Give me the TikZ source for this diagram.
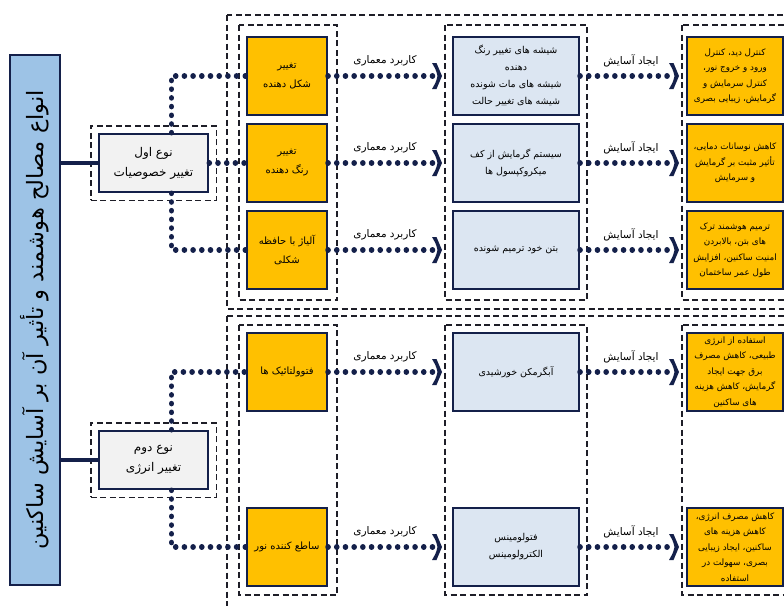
\documentclass[tikz,border=0pt]{standalone}
\usepackage{fontspec}
\usetikzlibrary{fit}
\newfontfamily\arabicfont[Script=Arabic]{DejaVu Sans}
\TeXXeTstate=1
\newcommand\fatx[1]{\beginR#1\endR}
\definecolor{navy}{HTML}{14204A}
\definecolor{goldbox}{HTML}{FFC000}
\definecolor{paleblue}{HTML}{DCE6F2}
\definecolor{titleblue}{HTML}{9DC3E6}
\definecolor{graybox}{HTML}{F2F2F2}
\definecolor{dashgray}{HTML}{1E1E28}
\tikzset{
  dashbox/.style={draw=dashgray, line width=1.5pt, dash pattern=on 6pt off 3.5pt},
  dotline/.style={draw=navy, line width=5.5pt, line cap=round, dash pattern=on 0.1pt off 8.6pt},
  conn/.style={draw=navy, line width=4pt},
  titlebox/.style={draw=navy, line width=2pt, fill=titleblue, inner sep=0pt,
     font=\arabicfont\fontsize{22.5}{26}\selectfont},
  typebox/.style={draw=navy, line width=2.5pt, fill=graybox, minimum width=109pt,
     minimum height=58pt, inner sep=1pt, align=center,
     font=\arabicfont\fontsize{12}{20}\selectfont},
  kindbox/.style={draw=navy, line width=2pt, fill=goldbox, minimum width=80pt,
     minimum height=78pt, inner sep=1pt, align=center,
     font=\arabicfont\fontsize{10}{19}\selectfont},
  usebox/.style={draw=navy, line width=2pt, fill=paleblue, minimum width=126pt,
     minimum height=78pt, inner sep=1pt, align=center,
     font=\arabicfont\fontsize{9.5}{17}\selectfont},
  effbox/.style={draw=navy, line width=2pt, fill=goldbox, minimum width=96pt,
     minimum height=78pt, inner sep=1pt, align=center,
     font=\arabicfont\fontsize{8.8}{15.5}\selectfont},
  lbl/.style={inner sep=0pt, font=\arabicfont\fontsize{10.5}{12}\selectfont},
  chev/.pic={\fill[navy] (-8,-13) -- (-3.5,-13) .. controls (0,-6) .. (2,0)
     .. controls (0,6) .. (-3.5,13) -- (-8,13) .. controls (-4,6) .. (-2.5,0)
     .. controls (-4,-6) .. (-8,-13) -- cycle;}
}
\begin{document}
\begin{tikzpicture}[x=1pt,y=-1pt]
\useasboundingbox (0,0) rectangle (784,605);
\clip (0,0) rectangle (784,605);
\fill[white] (0,0) rectangle (784,605);

% group frames
\draw[dashbox] (227,15) rectangle (800,309);
\draw[dashbox] (227,316) rectangle (800,620);
% column frames
\draw[dashbox] (239,25) rectangle (337,300);
\draw[dashbox] (445,25) rectangle (587,300);
\draw[dashbox] (682,25) rectangle (800,300);
\draw[dashbox] (239,325) rectangle (337,595);
\draw[dashbox] (445,325) rectangle (587,595);
\draw[dashbox] (682,325) rectangle (800,595);

% title
\node[titlebox, rotate=90, minimum width=530pt, minimum height=50pt] (title) at (35,320)
  {\fatx{انواع مصالح هوشمند و تأثیر آن بر آسایش ساکنین}};

% type boxes
\node[typebox] (typ1) at (153.5,163) {\fatx{نوع اول}\\\fatx{تغییر خصوصیات}};
\node[typebox] (typ2) at (153.5,460) {\fatx{نوع دوم}\\\fatx{تغییر انرژی}};
\node[dashbox, fit=(typ1), inner sep=7pt] (typ1f) {};
\node[dashbox, fit=(typ2), inner sep=7pt] (typ2f) {};

% column 1
\node[kindbox] (a1) at (287,76) {\fatx{تغییر}\\\fatx{شکل دهنده}};
\node[kindbox] (a2) at (287,163) {\fatx{تغییر}\\\fatx{رنگ دهنده}};
\node[kindbox] (a3) at (287,250) {\fatx{آلیاژ با حافظه}\\\fatx{شکلی}};
\node[kindbox] (a4) at (287,372) {\fatx{فتوولتائیک ها}};
\node[kindbox] (a5) at (287,547) {\fatx{ساطع کننده نور}};

% column 2
\node[usebox] (b1) at (516,76) {\fatx{شیشه های تغییر رنگ}\\\fatx{دهنده}\\\fatx{شیشه های مات شونده}\\\fatx{شیشه های تغییر حالت}};
\node[usebox] (b2) at (516,163) {\fatx{سیستم گرمایش از کف}\\\fatx{میکروکپسول ها}};
\node[usebox] (b3) at (516,250) {\fatx{بتن خود ترمیم شونده}};
\node[usebox] (b4) at (516,372) {\fatx{آبگرمکن خورشیدی}};
\node[usebox] (b5) at (516,547) {\fatx{فتولومینس}\\\fatx{الکترولومینس}};

% column 3
\node[effbox] (c1) at (735,76) {\fatx{کنترل دید، کنترل}\\\fatx{ورود و خروج نور،}\\\fatx{کنترل سرمایش و}\\\fatx{گرمایش، زیبایی بصری}};
\node[effbox] (c2) at (735,163) {\fatx{کاهش نوسانات دمایی،}\\\fatx{تأثیر مثبت بر گرمایش}\\\fatx{و سرمایش}};
\node[effbox] (c3) at (735,250) {\fatx{ترمیم هوشمند ترک}\\\fatx{های بتن، بالابردن}\\\fatx{امنیت ساکنین، افزایش}\\\fatx{طول عمر ساختمان}};
\node[effbox] (c4) at (735,372) {\fatx{استفاده از انرژی}\\\fatx{طبیعی، کاهش مصرف}\\\fatx{برق جهت ایجاد}\\\fatx{گرمایش، کاهش هزینه}\\\fatx{های ساکنین}};
\node[effbox] (c5) at (735,547) {\fatx{کاهش مصرف انرژی،}\\\fatx{کاهش هزینه های}\\\fatx{ساکنین، ایجاد زیبایی}\\\fatx{بصری، سهولت در}\\\fatx{استفاده}};

% title to types
\draw[conn] (typ1.west) -- (typ1.west -| title.south);
\draw[conn] (typ2.west) -- (typ2.west -| title.south);

% types to kinds
\draw[dotline] ([xshift=18pt]typ1.north) |- (a1.west);
\draw[dotline] (typ1.east) -- (a2.west);
\draw[dotline] ([xshift=18pt]typ1.south) |- (a3.west);
\draw[dotline] ([xshift=18pt]typ2.north) |- (a4.west);
\draw[dotline] ([xshift=18pt]typ2.south) |- (a5.west);

% kinds to uses, uses to effects
\foreach \i/\r in {1/76,2/163,3/250,4/372,5/547}{
  \coordinate (k\i) at ([xshift=-12pt]b\i.west);
  \coordinate (e\i) at ([xshift=-9pt]c\i.west);
  \draw[dotline] (a\i.east) -- ([xshift=-6pt]k\i);
  \draw[dotline] (b\i.east) -- ([xshift=-6pt]e\i);
  \pic at (k\i) {chev};
  \pic at (e\i) {chev};
  \node[lbl] (u\i) at (385,\r-15) {\fatx{کاربرد معماری}};
  \node[lbl] (v\i) at (631,\r-15) {\fatx{ایجاد آسایش}};
}
\end{tikzpicture}
\end{document}
